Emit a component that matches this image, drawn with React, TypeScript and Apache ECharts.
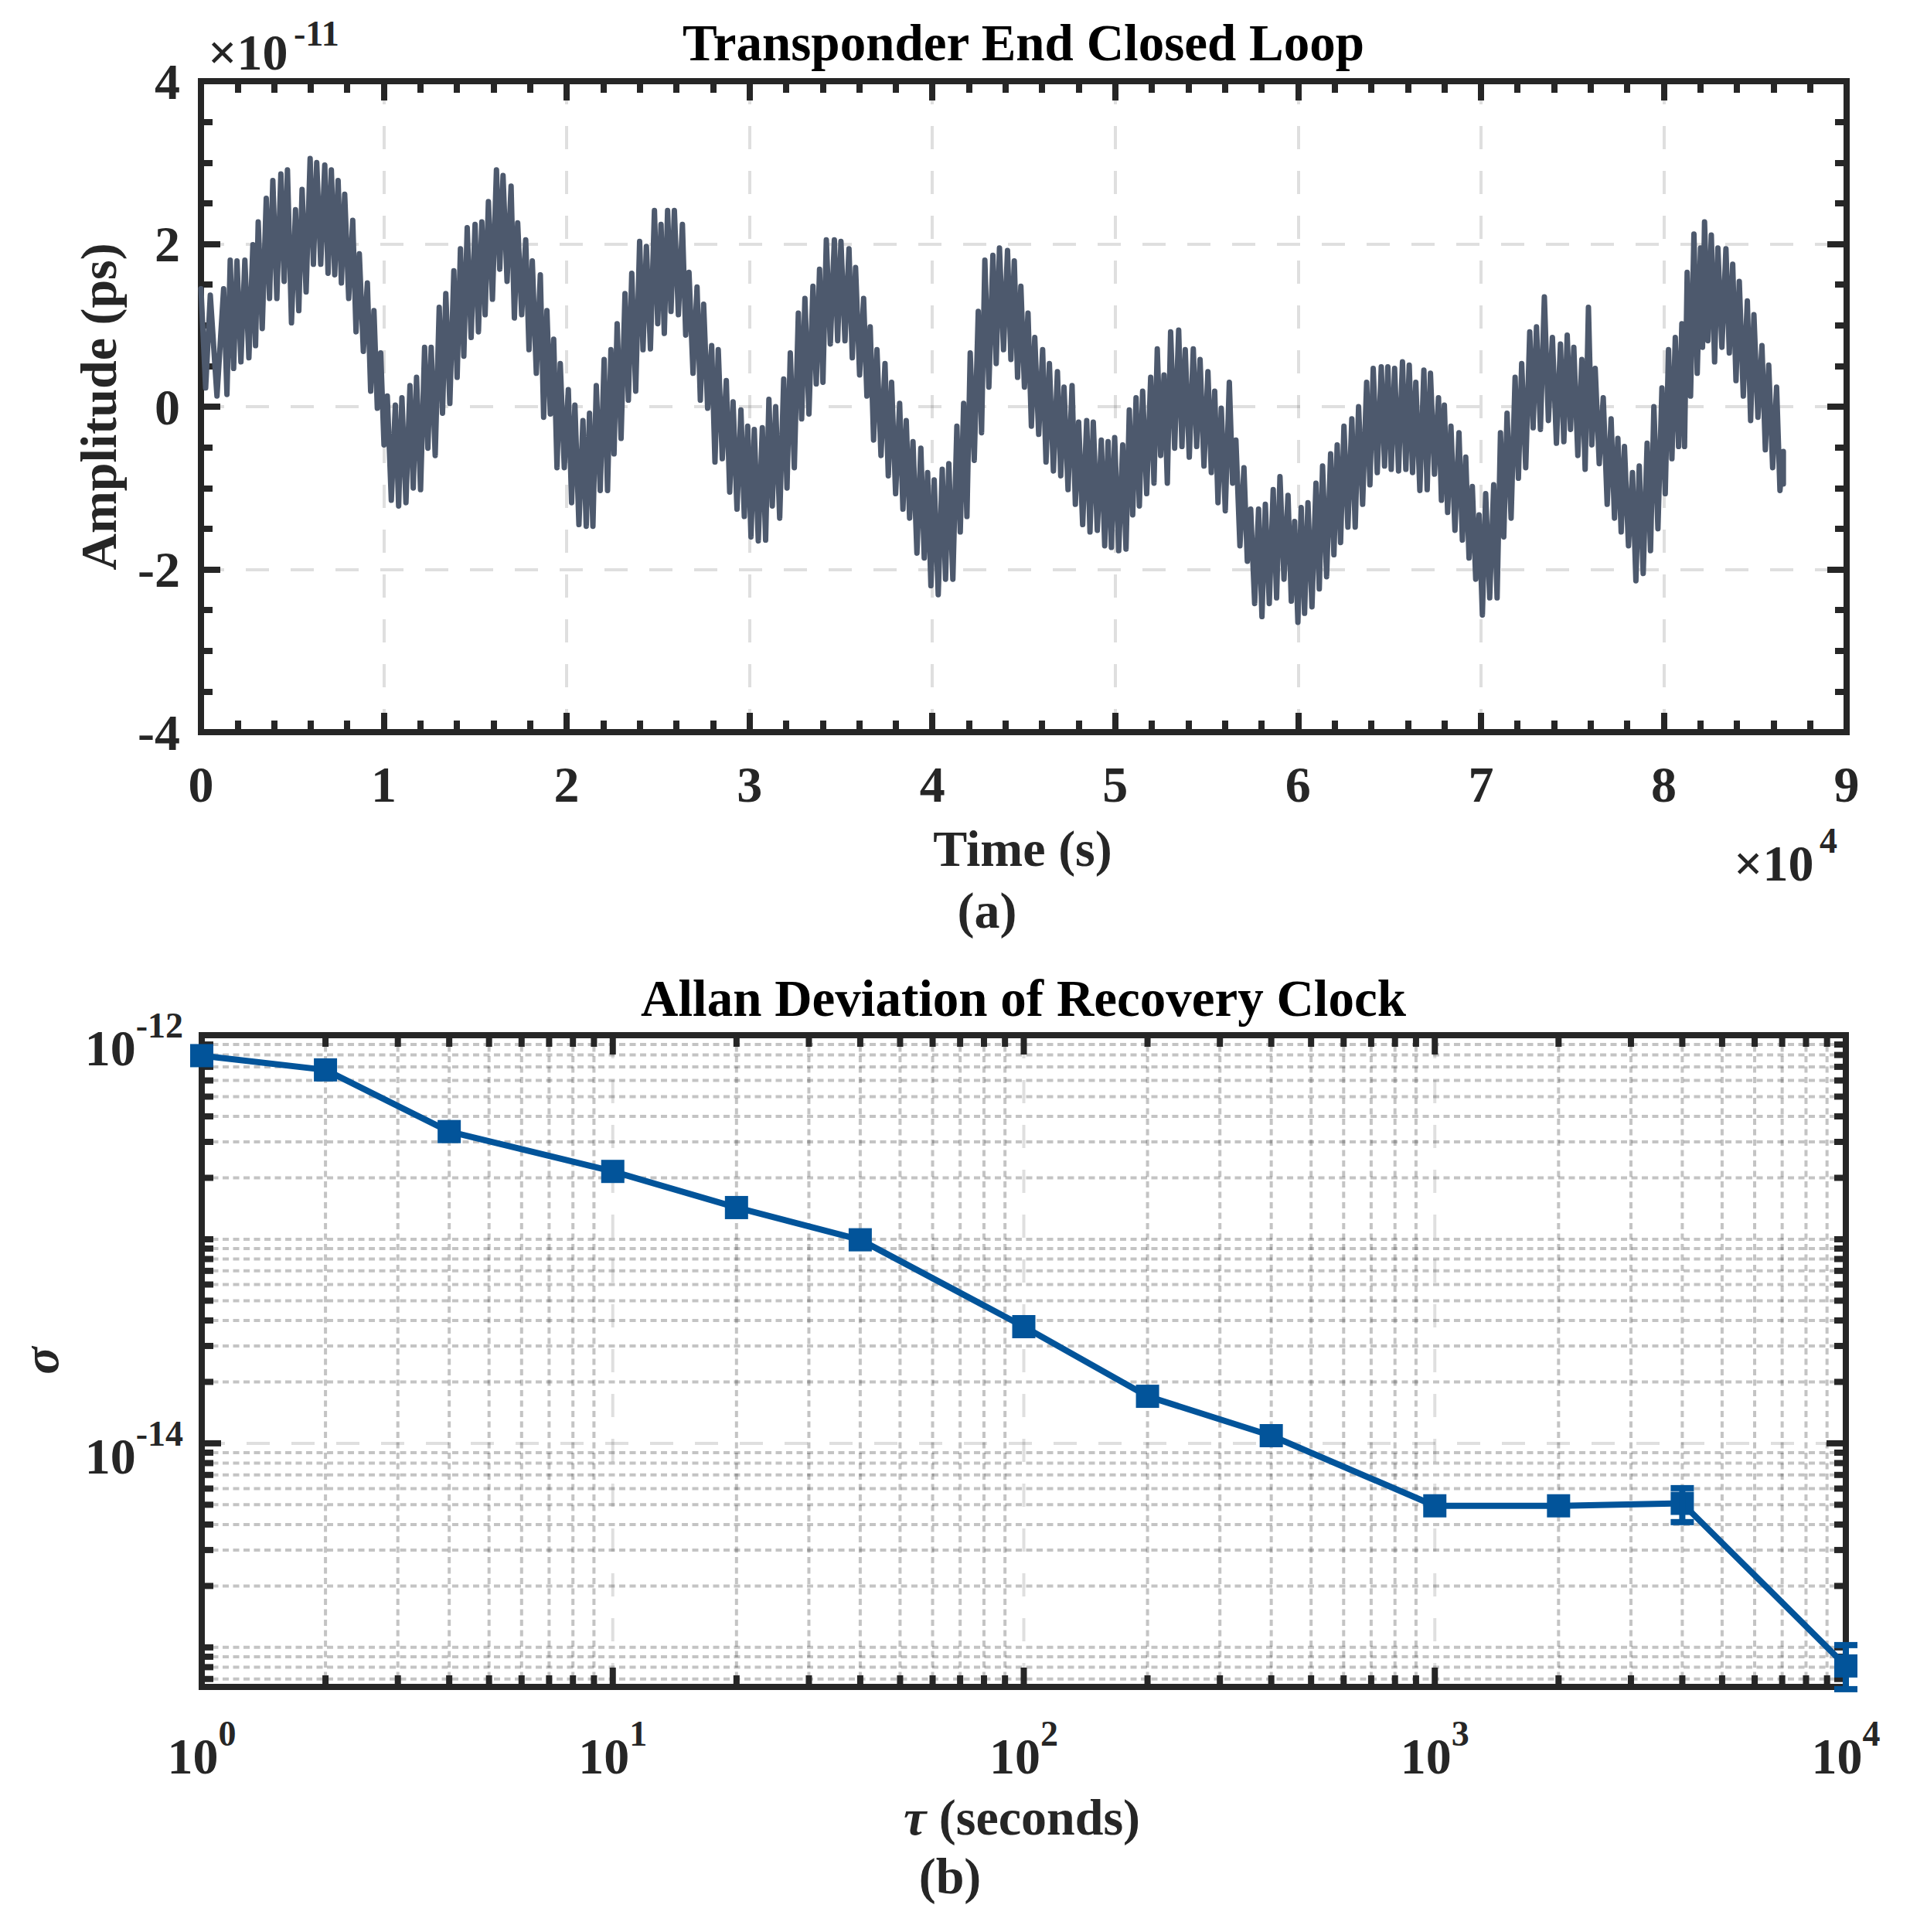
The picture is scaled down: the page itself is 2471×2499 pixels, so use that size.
import React, { useEffect, useRef } from 'react';
import * as echarts from 'echarts';

const W = 2471;
const H = 2499;
const FONT = 'Liberation Serif';
const INK = '#262626';

// ---------------- Panel (a): Transponder End Closed Loop ----------------
// time of each reading (s) and the upper / lower extent of the noisy trace (×1e-11)
const sampleTime = [
  0, 510, 1240, 1600, 1970, 2400, 2840, 3130, 3570, 3930, 4370, 4730, 5170, 5530, 5970, 6330, 6770, 7130, 7500, 7860,
  8300, 8660, 9100, 9460, 9830, 10190, 10630, 10990, 11430, 11790, 12230, 12590, 13030, 13390, 13830, 14190, 14560, 14990, 15360, 15720,
  16160, 16520, 16960, 17320, 17760, 18120, 18560, 18920, 19290, 19650, 20090, 20450, 20890, 21250, 21620, 22050, 22420, 22760, 23190, 23560,
  23990, 24360, 24800, 25160, 25520, 25890, 26330, 26690, 27130, 27490, 27930, 28290, 28730, 29100, 29530, 29900, 30260, 30700, 31060, 31430,
  31870, 32230, 32670, 33030, 33470, 33830, 34200, 34640, 35000, 35440, 35800, 36240, 36600, 36970, 37410, 37770, 38210, 38570, 38940, 39370,
  39740, 40100, 40540, 40900, 41340, 41710, 42070, 42510, 42870, 43310, 43670, 44110, 44480, 44840, 45230, 45600, 46030, 46400, 46840, 47200,
  47640, 48000, 48440, 48800, 49240, 49610, 49970, 50410, 50770, 51140, 51500, 51940, 52300, 52670, 53030, 53470, 53830, 54270, 54640, 55070,
  55440, 55800, 56240, 56600, 57040, 57410, 57840, 58210, 58640, 59010, 59450, 59810, 60170, 60540, 60980, 61340, 61780, 62140, 62510, 62940,
  63310, 63750, 64110, 64550, 64910, 65280, 65710, 66080, 66440, 66880, 67240, 67680, 68000, 68360, 68800, 69170, 69530, 69900, 70260, 70700,
  71070, 71430, 71870, 72230, 72670, 73040, 73470, 73910, 74350, 74720, 75080, 75520, 75880, 76250, 76690, 77120, 77490, 77850, 78290, 78660,
  79090, 79460, 79900, 80260, 80630, 80990, 81280, 81650, 82010, 82230, 82600, 82960, 83400, 83770, 84130, 84570, 84930, 85370, 85740, 86170,
  86540,
];
const upperEnv = [
  1.45, 1.37, 1.45, 1.8, 1.79, 1.8, 1.99, 2.27, 2.56, 2.78, 2.86, 2.91, 2.42, 2.67, 3.05, 3.0, 2.97, 2.91, 2.78, 2.61,
  2.29, 1.88, 1.52, 1.18, 0.66, 0.13, 0.02, 0.11, 0.26, 0.36, 0.73, 0.73, 1.22, 1.39, 1.67, 1.94, 2.2, 2.24, 2.27, 2.52,
  2.91, 2.84, 2.71, 2.26, 2.05, 1.79, 1.62, 1.18, 0.83, 0.53, 0.21, 0.02, -0.17, -0.08, 0.26, 0.58, 0.7, 1.02, 1.39, 1.64,
  2.03, 1.97, 2.41, 2.24, 2.41, 2.41, 2.24, 1.65, 1.47, 1.26, 0.75, 0.7, 0.32, 0.06, -0.04, -0.24, -0.28, -0.26, 0.09, 0.0,
  0.34, 0.66, 1.15, 1.33, 1.48, 1.69, 2.05, 2.05, 2.03, 1.94, 1.71, 1.33, 0.98, 0.7, 0.53, 0.3, 0.04, -0.17, -0.43, -0.51,
  -0.81, -0.9, -0.77, -0.7, -0.24, 0.04, 0.66, 1.17, 1.8, 1.86, 1.95, 1.92, 1.79, 1.48, 1.15, 0.85, 0.7, 0.53, 0.43, 0.24,
  0.26, -0.19, -0.17, -0.19, -0.41, -0.43, -0.38, -0.47, -0.04, 0.11, 0.19, 0.36, 0.71, 0.39, 0.92, 0.94, 0.7, 0.71, 0.58, 0.43,
  0.19, -0.02, 0.3, -0.41, -0.75, -1.26, -1.26, -1.2, -1.02, -0.86, -1.09, -1.41, -1.24, -1.18, -0.94, -0.73, -0.58, -0.47, -0.24, -0.15,
  0.0, 0.3, 0.47, 0.49, 0.49, 0.47, 0.55, 0.51, 0.3, 0.45, 0.41, 0.11, 0.02, -0.24, -0.32, -0.62, -0.98, -1.33, -1.07, -0.96,
  -0.32, -0.08, 0.36, 0.53, 0.92, 0.98, 1.35, 0.85, 0.77, 0.88, 0.73, 0.58, 1.22, 0.47, 0.11, -0.15, -0.39, -0.49, -0.81, -0.73,
  -0.45, 0.0, 0.23, 0.7, 0.85, 1.02, 1.65, 2.12, 1.95, 2.27, 2.11, 1.95, 1.94, 1.75, 1.54, 1.3, 1.13, 0.75, 0.51, 0.24,
  -0.55,
];
const lowerEnv = [
  0.23, 0.13, 0.15, 0.47, 0.55, 0.6, 0.75, 0.96, 1.33, 1.33, 1.54, 1.03, 1.18, 1.41, 1.75, 1.75, 1.64, 1.62, 1.52, 1.33,
  0.92, 0.68, 0.19, -0.02, -0.47, -1.15, -1.22, -1.18, -1.0, -1.02, -0.51, -0.6, -0.08, 0.04, 0.36, 0.62, 0.85, 0.92, 1.13, 1.32,
  1.69, 1.54, 1.09, 1.13, 0.7, 0.41, -0.13, -0.09, -0.75, -0.75, -1.18, -1.45, -1.47, -1.47, -1.03, -1.03, -0.58, -0.39, 0.08, 0.19,
  0.7, 0.71, 1.02, 0.9, 1.17, 1.13, 0.88, 0.41, 0.08, -0.02, -0.68, -0.64, -1.05, -1.26, -1.35, -1.6, -1.65, -1.64, -1.22, -1.37,
  -1.0, -0.75, -0.15, -0.09, 0.28, 0.3, 0.77, 0.81, 0.81, 0.6, 0.39, 0.13, -0.41, -0.6, -0.85, -1.07, -1.26, -1.37, -1.8, -1.86,
  -2.2, -2.31, -2.12, -2.12, -1.54, -1.35, -0.66, -0.32, 0.24, 0.53, 0.7, 0.58, 0.36, 0.24, -0.24, -0.34, -0.68, -0.79, -0.85, -1.02,
  -1.2, -1.45, -1.54, -1.52, -1.71, -1.73, -1.77, -1.75, -1.33, -1.22, -1.07, -0.94, -0.6, -0.94, -0.51, -0.49, -0.62, -0.49, -0.73, -0.81,
  -1.18, -1.28, -0.94, -1.71, -1.9, -2.42, -2.58, -2.42, -2.35, -2.12, -2.39, -2.65, -2.54, -2.46, -2.24, -2.09, -1.82, -1.67, -1.48, -1.48,
  -1.2, -0.96, -0.81, -0.73, -0.77, -0.79, -0.77, -0.81, -1.03, -1.02, -0.83, -1.15, -1.3, -1.52, -1.64, -1.86, -2.12, -2.56, -2.35, -2.35,
  -1.6, -1.37, -0.88, -0.75, -0.26, -0.28, -0.17, -0.45, -0.43, -0.28, -0.6, -0.77, -0.47, -0.7, -1.2, -1.37, -1.54, -1.71, -2.14, -2.05,
  -1.77, -1.5, -1.07, -0.64, -0.49, -0.49, 0.13, 0.41, 0.73, 0.81, 0.55, 0.73, 0.66, 0.32, 0.13, -0.17, -0.13, -0.53, -0.75, -1.03,
  -0.95,
];
const ampTicks = [-4, -2, 0, 2, 4];

// ---------------- Panel (b): Allan deviation ----------------
const tauValues = [1, 2, 4, 10, 20, 40, 100, 200, 400, 1000, 2000, 4000, 10000];
const adevValues = [
  7.94e-13, 6.76e-13, 3.37e-13, 2.15e-13, 1.43e-13, 9.94e-14, 3.73e-14, 1.7e-14, 1.09e-14, 4.94e-15, 4.94e-15, 5.08e-15, 8.11e-16,
];
const adevErrLow = [null, null, null, null, null, null, null, null, null, null, null, 4.11e-15, 6.24e-16];
const adevErrHigh = [null, null, null, null, null, null, null, null, null, null, null, 6.03e-15, 1.026e-15];
const tauMajorGrid = [10, 100, 1000];
const tauMinorGrid = [
  2, 3, 4, 5, 6, 7, 8, 9, 20, 30, 40, 50, 60, 70, 80, 90, 200, 300, 400, 500, 600, 700, 800, 900,
  2000, 3000, 4000, 5000, 6000, 7000, 8000, 9000,
];
const sigmaMajorGrid = [1e-14];
const sigmaMinorGrid = [
  7e-16, 8e-16, 9e-16, 1e-15, 2e-15, 3e-15, 4e-15, 5e-15, 6e-15, 7e-15, 8e-15, 9e-15,
  2e-14, 3e-14, 4e-14, 5e-14, 6e-14, 7e-14, 8e-14, 9e-14, 1e-13,
  2e-13, 3e-13, 4e-13, 5e-13, 6e-13, 7e-13, 8e-13, 9e-13,
];
const sigmaLabelExponents = [-12, -14];
const SIGMA_MIN = 6.4e-16;
const SIGMA_MAX = 1e-12;

const LINE_A = '#4d596d';
const LINE_B = '#02549a';
const MAJOR_GRID = 'rgba(38,38,38,0.15)';
const MINOR_GRID = 'rgba(38,38,38,0.27)';
const AXIS_W = 8;

function buildOption() {
  const zig: [number, number][] = [];
  for (let i = 0; i < sampleTime.length; i++) {
    zig.push([sampleTime[i], upperEnv[i]]);
    const next = i + 1 < sampleTime.length ? sampleTime[i + 1] : sampleTime[i];
    zig.push([(sampleTime[i] + next) / 2, lowerEnv[i]]);
  }
  const adevData = tauValues.map((t, i) => [t, adevValues[i]]);
  const errData: number[][] = [];
  tauValues.forEach((t, i) => {
    if (adevErrLow[i] != null && adevErrHigh[i] != null) errData.push([t, adevErrLow[i] as number, adevErrHigh[i] as number]);
  });

  const tickStyle = { fontFamily: FONT, fontWeight: 'bold' as const, fontSize: 66, color: INK };
  const axisLine = { show: true, onZero: false, lineStyle: { color: INK, width: AXIS_W, cap: 'square' as const } };
  const tickLine = { color: INK, width: AXIS_W };
  const rich = {
    b: { fontFamily: FONT, fontWeight: 'bold', fontSize: 66, color: INK, verticalAlign: 'bottom' },
    s: { fontFamily: FONT, fontWeight: 'bold', fontSize: 46, lineHeight: 85, color: INK, verticalAlign: 'top' },
  };
  const powLabel = (v: number) => {
    const e = Math.round(Math.log10(v));
    return `{b|10}{s|${e}}`;
  };

  const gridRender = (orient: 'v' | 'h', major: boolean) => (params: any, api: any) => {
    const cs = params.coordSys;
    const dash = major ? [30, 28] : [8, 5.5];
    const stroke = major ? MAJOR_GRID : MINOR_GRID;
    const lw = major ? 4 : 4;
    const tl = major ? 25 : 15;
    const children: any[] = [];
    if (orient === 'v') {
      const px = api.coord([api.value(0), 1e-13])[0];
      children.push({ type: 'line', shape: { x1: px, y1: cs.y, x2: px, y2: cs.y + cs.height }, style: { stroke, lineWidth: lw, lineDash: dash } });
      children.push({ type: 'line', shape: { x1: px, y1: cs.y + cs.height, x2: px, y2: cs.y + cs.height - tl }, style: { stroke: INK, lineWidth: AXIS_W } });
      children.push({ type: 'line', shape: { x1: px, y1: cs.y, x2: px, y2: cs.y + tl }, style: { stroke: INK, lineWidth: AXIS_W } });
    } else {
      const py = api.coord([10, api.value(1)])[1];
      children.push({ type: 'line', shape: { x1: cs.x, y1: py, x2: cs.x + cs.width, y2: py }, style: { stroke, lineWidth: lw, lineDash: dash } });
      children.push({ type: 'line', shape: { x1: cs.x, y1: py, x2: cs.x + tl, y2: py }, style: { stroke: INK, lineWidth: AXIS_W } });
      children.push({ type: 'line', shape: { x1: cs.x + cs.width, y1: py, x2: cs.x + cs.width - tl, y2: py }, style: { stroke: INK, lineWidth: AXIS_W } });
    }
    return { type: 'group', children };
  };

  const errRender = (params: any, api: any) => {
    const x = api.value(0);
    const lo = api.coord([x, api.value(1)]);
    const hi = api.coord([x, api.value(2)]);
    const cw = 15;
    const st = { stroke: LINE_B, lineWidth: 8 };
    return {
      type: 'group',
      children: [
        { type: 'line', shape: { x1: lo[0], y1: lo[1], x2: hi[0], y2: hi[1] }, style: st },
        { type: 'line', shape: { x1: lo[0] - cw, y1: lo[1], x2: lo[0] + cw, y2: lo[1] }, style: st },
        { type: 'line', shape: { x1: hi[0] - cw, y1: hi[1], x2: hi[0] + cw, y2: hi[1] }, style: st },
      ],
    };
  };

  const txt = (x: number, y: number, text: string, extra: any = {}) => ({
    type: 'text',
    x,
    y,
    silent: true,
    style: {
      text,
      fill: INK,
      fontFamily: FONT,
      fontWeight: 'bold',
      fontSize: 66,
      align: 'center',
      verticalAlign: 'middle',
      ...extra,
    },
  });

  return {
    animation: false,
    backgroundColor: '#ffffff',
    grid: [
      { left: 260, top: 105, width: 2129, height: 842, outerBoundsMode: 'none' },
      { left: 261, top: 1339, width: 2127, height: 843, outerBoundsMode: 'none' },
    ],
    xAxis: [
      {
        gridIndex: 0, type: 'value', position: 'bottom', min: 0, max: 90000, interval: 10000,
        axisLine,
        axisTick: { show: true, inside: true, length: 25, lineStyle: tickLine },
        minorTick: { show: true, splitNumber: 5, length: 15, lineStyle: tickLine },
        axisLabel: { ...tickStyle, margin: 34, lineHeight: 66, formatter: (v: number) => String(Math.round(v / 10000)) },
        splitLine: { show: true, lineStyle: { color: MAJOR_GRID, width: 4, type: [30, 28] } },
      },
      {
        gridIndex: 0, type: 'value', position: 'top', min: 0, max: 90000, interval: 10000,
        axisLine,
        axisTick: { show: true, inside: true, length: 25, lineStyle: tickLine },
        minorTick: { show: true, splitNumber: 5, length: 15, lineStyle: tickLine },
        axisLabel: { show: false },
        splitLine: { show: false },
      },
      {
        gridIndex: 1, type: 'log', logBase: 10, position: 'bottom', min: 1, max: 10000,
        axisLine,
        axisTick: { show: false },
        minorTick: { show: false },
        axisLabel: { margin: 37, formatter: powLabel, rich },
        splitLine: { show: false },
      },
      {
        gridIndex: 1, type: 'log', logBase: 10, position: 'top', min: 1, max: 10000,
        axisLine,
        axisTick: { show: false },
        axisLabel: { show: false },
        splitLine: { show: false },
      },
    ],
    yAxis: [
      {
        gridIndex: 0, type: 'value', position: 'left', min: -4, max: 4, interval: 2,
        axisLine,
        axisTick: { show: true, inside: true, length: 25, lineStyle: tickLine },
        minorTick: { show: true, splitNumber: 4, length: 15, lineStyle: tickLine },
        axisLabel: { ...tickStyle, margin: 27, formatter: (v: number) => (ampTicks.includes(v) ? String(v) : '') },
        splitLine: { show: true, lineStyle: { color: MAJOR_GRID, width: 4, type: [30, 28] } },
      },
      {
        gridIndex: 0, type: 'value', position: 'right', min: -4, max: 4, interval: 2,
        axisLine,
        axisTick: { show: true, inside: true, length: 25, lineStyle: tickLine },
        minorTick: { show: true, splitNumber: 4, length: 15, lineStyle: tickLine },
        axisLabel: { show: false },
        splitLine: { show: false },
      },
      {
        gridIndex: 1, type: 'log', logBase: 10, position: 'left', min: SIGMA_MIN, max: SIGMA_MAX,
        axisLine,
        axisTick: { show: false },
        minorTick: { show: false },
        axisLabel: {
          margin: 24,
          padding: [14, 0, 0, 0],
          rich,
          formatter: (v: number) => {
            const e = Math.round(Math.log10(v));
            return sigmaLabelExponents.includes(e) && Math.abs(Math.log10(v) - e) < 0.01 ? `{b|10}{s|${e}}` : '';
          },
        },
        splitLine: { show: false },
      },
      {
        gridIndex: 1, type: 'log', logBase: 10, position: 'right', min: SIGMA_MIN, max: SIGMA_MAX,
        axisLine,
        axisTick: { show: false },
        axisLabel: { show: false },
        splitLine: { show: false },
      },
    ],
    series: [
      {
        type: 'line', xAxisIndex: 0, yAxisIndex: 0, data: zig, symbol: 'none', showSymbol: false,
        z: 3, silent: true,
        lineStyle: { color: LINE_A, width: 7, join: 'round', cap: 'round' },
      },
      {
        type: 'custom', xAxisIndex: 2, yAxisIndex: 2, z: 1, silent: true, clip: false,
        data: tauMinorGrid.map((v) => [v, 1e-13]), encode: { x: 0, y: 1 },
        renderItem: gridRender('v', false),
      },
      {
        type: 'custom', xAxisIndex: 2, yAxisIndex: 2, z: 1, silent: true, clip: false,
        data: tauMajorGrid.map((v) => [v, 1e-13]), encode: { x: 0, y: 1 },
        renderItem: gridRender('v', true),
      },
      {
        type: 'custom', xAxisIndex: 2, yAxisIndex: 2, z: 1, silent: true, clip: false,
        data: sigmaMinorGrid.map((v) => [10, v]), encode: { x: 0, y: 1 },
        renderItem: gridRender('h', false),
      },
      {
        type: 'custom', xAxisIndex: 2, yAxisIndex: 2, z: 1, silent: true, clip: false,
        data: sigmaMajorGrid.map((v) => [10, v]), encode: { x: 0, y: 1 },
        renderItem: gridRender('h', true),
      },
      {
        type: 'line', xAxisIndex: 2, yAxisIndex: 2, data: adevData, z: 4, clip: false, silent: true,
        symbol: 'rect', symbolSize: 30, showSymbol: true,
        lineStyle: { color: LINE_B, width: 8 },
        itemStyle: { color: LINE_B },
      },
      {
        type: 'custom', xAxisIndex: 2, yAxisIndex: 2, z: 5, silent: true, clip: false,
        data: errData, encode: { x: 0, y: [1, 2] },
        renderItem: errRender,
      },
    ],
    graphic: [
      txt(1324, 55, 'Transponder End Closed Loop', { fill: '#000000', fontSize: 67 }),
      txt(269, 67, '×10', { align: 'left' }),
      txt(380, 43, '-11', { align: 'left', fontSize: 46 }),
      txt(1323, 1097, 'Time (s)'),
      txt(2243, 1116, '×10', { align: 'left' }),
      txt(2354, 1087, '4', { align: 'left', fontSize: 46 }),
      txt(1277, 1177, '(a)'),
      { ...txt(127, 526, 'Amplitude (ps)'), rotation: Math.PI / 2 },
      txt(1324, 1291, 'Allan Deviation of Recovery Clock', { fill: '#000000', fontSize: 67 }),
      {
        type: 'text', x: 1322, y: 2350, silent: true,
        style: {
          text: '{i|τ}{n| (seconds)}',
          align: 'center', verticalAlign: 'middle',
          rich: {
            i: { fontFamily: FONT, fontStyle: 'italic', fontWeight: 'bold', fontSize: 66, fill: INK, color: INK },
            n: { fontFamily: FONT, fontWeight: 'bold', fontSize: 66, fill: INK, color: INK },
          },
        },
      },
      txt(1229, 2426, '(b)'),
      { ...txt(52, 1760, 'σ', { fontStyle: 'italic' }), rotation: Math.PI / 2 },
    ],
  };
}

export default function App() {
  const ref = useRef<HTMLDivElement>(null);
  useEffect(() => {
    document.body.style.margin = '0';
    const chart = echarts.init(ref.current as HTMLDivElement, undefined, { renderer: 'svg', width: W, height: H });
    chart.setOption(buildOption() as any);
    return () => chart.dispose();
  }, []);
  return (
    <div
      ref={ref}
      style={{ position: 'absolute', left: 0, top: 0, width: W, height: H, background: '#ffffff' }}
    />
  );
}
